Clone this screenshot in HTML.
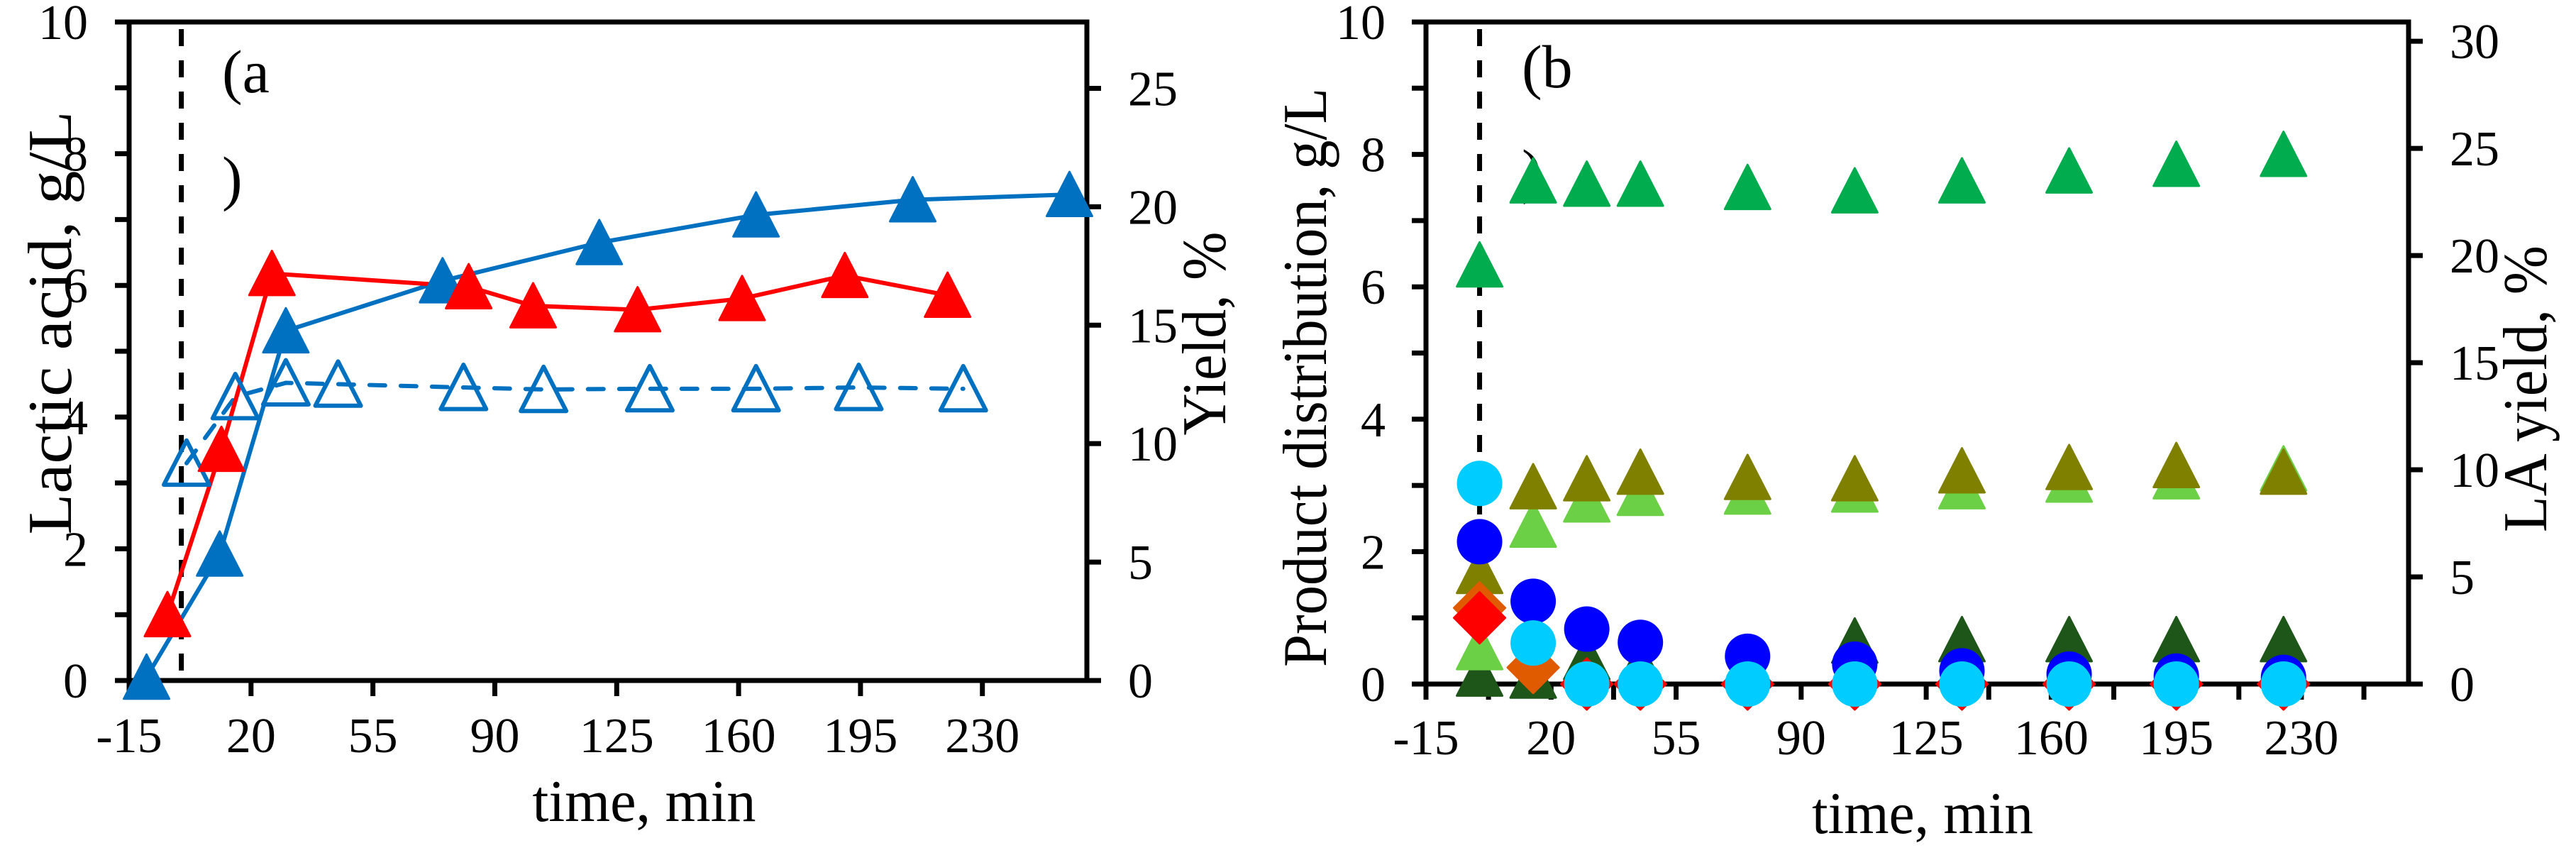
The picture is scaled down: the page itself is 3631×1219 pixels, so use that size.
<!DOCTYPE html>
<html><head><meta charset="utf-8"><style>
html,body{margin:0;padding:0;background:#fff;}
svg{display:block;}
svg text{font-family:"Liberation Serif","DejaVu Serif",serif;}
</style></head><body>
<svg id="chart" width="3631" height="1219" viewBox="0 0 3631 1219" xmlns="http://www.w3.org/2000/svg" font-family="Liberation Serif, serif">
<rect x="0" y="0" width="3631" height="1219" fill="#fff"/>
<g id="pa"></g>
<g id="pb"></g>
</svg>
<script>
// Panel a data
const aBlueT = [-10, 11, 30, 75, 120, 165, 210, 255];
const aBlueV = [0.05, 1.92, 5.31, 6.07, 6.65, 7.07, 7.3, 7.38];
const aRedT = [-4, 11.5, 26, 82.5, 101, 131, 161, 190.5, 220];
const aRedV = [1.0, 3.51, 6.18, 5.98, 5.69, 5.63, 5.8, 6.15, 5.85];
const aOpenT = [1.5, 15.5, 30, 45, 81, 104, 134.5, 165, 194.5, 224.5];
const aOpenV = [3.3, 4.31, 4.52, 4.5, 4.45, 4.42, 4.43, 4.43, 4.45, 4.43];
const xTickLabels = [-15, 20, 55, 90, 125, 160, 195, 230];
const yLeftLabels = [0, 2, 4, 6, 8, 10];
const aRightLabels = [0, 5, 10, 15, 20, 25];
const bRightLabels = [0, 5, 10, 15, 20, 25, 30];
// Panel b data
const bT = [0, 15, 30, 45, 75, 105, 135, 165, 195, 225];
const bDarkGreen = [0.15, 0.12, 0.4, 0.3, 0.35, 0.65, 0.67, 0.67, 0.67, 0.67];
const bLightGreen = [0.55, 2.4, 2.78, 2.88, 2.9, 2.93, 2.98, 3.08, 3.13, 3.25];
const bOlive = [1.7, 2.98, 3.1, 3.2, 3.12, 3.1, 3.22, 3.27, 3.3, 3.2];
const bGreen = [6.33, 7.6, 7.55, 7.55, 7.5, 7.45, 7.6, 7.75, 7.85, 8.0];
const bOrange = [1.15, 0.25, 0, 0, 0, 0, 0, 0, 0, 0];
const bRed = [1.0, null, 0, 0, 0, 0, 0, 0, 0, 0];
const bBlue = [2.15, 1.25, 0.83, 0.63, 0.42, 0.3, 0.2, 0.15, 0.12, 0.1];
const bCyan = [3.03, 0.62, 0, 0, 0, 0, 0, 0, 0, 0];

const NS = "http://www.w3.org/2000/svg";
const FONT = '"Liberation Serif", serif';
function el(tag, attrs, parent, txt){
  const e = document.createElementNS(NS, tag);
  for (const k in attrs) e.setAttribute(k, attrs[k]);
  if (tag === 'text') e.setAttribute('font-family', FONT);
  if (txt !== undefined) e.textContent = txt;
  parent.appendChild(e); return e;
}
function mk(P){
  return {
    x: t => P.L + (t - P.t0) * (P.R - P.L) / (P.t1 - P.t0),
    y: v => P.B - v * (P.B - P.T) / 10,
    yr: v => P.B - v * (P.B - P.T) / P.rmax
  };
}
function tri(g, cx, cy, fill, open){
  const s = 32;
  const p = `${cx},${cy - s} ${cx + s},${cy + s*0.95} ${cx - s},${cy + s*0.95}`;
  return el('polygon', {points: p, fill: open ? 'none' : fill, stroke: fill, 'stroke-width': open ? 6 : 3, 'stroke-linejoin': 'round'}, g);
}
function axes(g, P, S, minorX){
  const A = {stroke:'#000','stroke-width':7,fill:'none'};
  const fr = el('path', Object.assign({d:`M${P.L-20},${P.T} H${P.R} V${P.B+0} M${P.L},${P.T} V${P.B+22} M${P.L-20},${P.B} H${P.R+18}`}, A), g);
  
  
  xTickLabels.forEach((t, i) => {
    const x = S.x(t);
    if (i > 0) el('line', {x1:x, x2:x, y1:P.B, y2:P.B+22, stroke:'#000','stroke-width':7}, g);
    if (minorX && i > 0) { const xm = S.x(t - 17.5); el('line', {x1:xm, x2:xm, y1:P.B, y2:P.B+22, stroke:'#000','stroke-width':7}, g); }
    const tx = el('text', {x:x, y:P.xl, 'font-size':70, 'text-anchor':'middle'}, g, String(t));
    
    
  });
  if (minorX) { const xm = S.x(230 + 17.5); el('line', {x1:xm, x2:xm, y1:P.B, y2:P.B+22, stroke:'#000','stroke-width':7}, g); }
  for (let v = 1; v < 10; v++) {
    const y = S.y(v);
    el('line', {x1:P.L-20, x2:P.L, y1:y, y2:y, stroke:'#000','stroke-width':7}, g);
  }
  yLeftLabels.forEach(v => {
    const y = S.y(v);
    const tx = el('text', {x:P.ylx, y:y + 24, 'font-size':70, 'text-anchor':'end'}, g, String(v));
    
    
  });
  P.rl.forEach(v => {
    const y = S.yr(v);
    el('line', {x1:P.R, x2:P.R+20, y1:y, y2:y, stroke:'#000','stroke-width':7}, g);
    const tx = el('text', {x:P.rlx, y:y + 24, 'font-size':70}, g, String(v));
    
    
  });
  const dl = el('line', {x1:S.x(0), x2:S.x(0), y1:P.T+10, y2:P.B, stroke:'#000','stroke-width':7,'stroke-dasharray':'24 20'}, g);
  
  
}

// Panel A
(function(){
  const g = document.getElementById('pa');
  const P = {L:182, R:1532, T:31, B:959, t0:-15, t1:260, rmax:27.8, rl:aRightLabels, ylx:124, rlx:1590, xl:1060};
  const S = mk(P);
  axes(g, P, S, false);
  const lab = el('text', {x:313, y:130, 'font-size':86}, g, '(a');
   
  el('text', {x:313, y:280, 'font-size':86}, g, ')');
  const yl = el('text', {x:0, y:0, 'font-size':88, 'text-anchor':'middle', transform:'translate(100,455) rotate(-90)', textLength:597, lengthAdjust:'spacingAndGlyphs'}, g, 'Lactic acid, g/L');
   
  const yr = el('text', {x:0, y:0, 'font-size':88, 'text-anchor':'middle', transform:'translate(1727,470) rotate(-90)', textLength:287, lengthAdjust:'spacingAndGlyphs'}, g, 'Yield, %');
   
  const xl = el('text', {x:908, y:1157, 'font-size':84, 'text-anchor':'middle', textLength:315, lengthAdjust:'spacingAndGlyphs'}, g, 'time, min');
   
  const pl = (T, V) => T.map((t, i) => S.x(t) + ',' + S.y(V[i])).join(' ');
  const l1 = el('polyline', {points: pl(aOpenT, aOpenV), fill:'none', stroke:'#0070C0', 'stroke-width':6, 'stroke-dasharray':'22 22', 'stroke-linecap':'round'}, g);
   
  const l2 = el('polyline', {points: pl(aBlueT, aBlueV), fill:'none', stroke:'#0070C0', 'stroke-width':6}, g);
   
  const l3 = el('polyline', {points: pl(aRedT, aRedV), fill:'none', stroke:'#FF0000', 'stroke-width':6}, g);
   
  aOpenT.forEach((t, i) => { const m = tri(g, S.x(t), S.y(aOpenV[i]), '#0070C0', true);
      });
  aBlueT.forEach((t, i) => { const m = tri(g, S.x(t), S.y(aBlueV[i]), '#0070C0', false);
      });
  aRedT.forEach((t, i) => { const m = tri(g, S.x(t), S.y(aRedV[i]), '#FF0000', false);
      });
})();

// Panel B
(function(){
  const g = document.getElementById('pb');
  const P = {L:2010, R:3395, T:31, B:964, t0:-15, t1:260, rmax:30.9, rl:bRightLabels, ylx:1953, rlx:3453, xl:1063};
  const S = mk(P);
  axes(g, P, S, true);
  const lab = el('text', {x:2145, y:123, 'font-size':86}, g, '(b');
   
  el('text', {x:2145, y:270, 'font-size':86}, g, ')');
  const yl = el('text', {x:0, y:0, 'font-size':88, 'text-anchor':'middle', transform:'translate(1869,532) rotate(-90)', textLength:816, lengthAdjust:'spacingAndGlyphs'}, g, 'Product distribution, g/L');
   
  const yr = el('text', {x:0, y:0, 'font-size':88, 'text-anchor':'middle', transform:'translate(3589,548) rotate(-90)', textLength:404, lengthAdjust:'spacingAndGlyphs'}, g, 'LA yield, %');
   
  const xl = el('text', {x:2710, y:1174, 'font-size':84, 'text-anchor':'middle', textLength:312, lengthAdjust:'spacingAndGlyphs'}, g, 'time, min');
   
  const triS = (V, c, name) => bT.forEach((t, i) => { if (V[i] === null) return; const m = tri(g, S.x(t), S.y(V[i]), c, false);
      });
  const dia = (V, c, name) => bT.forEach((t, i) => { if (V[i] === null) return; const x = S.x(t), y = S.y(V[i]), s = 36;
    const m = el('polygon', {points:`${x},${y-s} ${x+s},${y} ${x},${y+s} ${x-s},${y}`, fill:c, stroke:c, 'stroke-width':3, 'stroke-linejoin':'round'}, g);
      });
  const cir = (V, c, name) => bT.forEach((t, i) => { if (V[i] === null) return;
    const m = el('circle', {cx:S.x(t), cy:S.y(V[i]), r:32, fill:c}, g);
      });
  triS(bDarkGreen, '#1E561A', 'dark-green-marker');
  triS(bLightGreen, '#6CD046', 'light-green-marker');
  triS(bOlive, '#808000', 'olive-marker');
  triS(bGreen, '#00AC4E', 'green-marker');
  dia(bOrange, '#E05A00', 'orange-marker');
  dia(bRed, '#FF0000', 'red-marker');
  cir(bBlue, '#0000FF', 'blue-circle-marker');
  cir(bCyan, '#00CCFF', 'cyan-circle-marker');
})();
</script>
</body></html>
